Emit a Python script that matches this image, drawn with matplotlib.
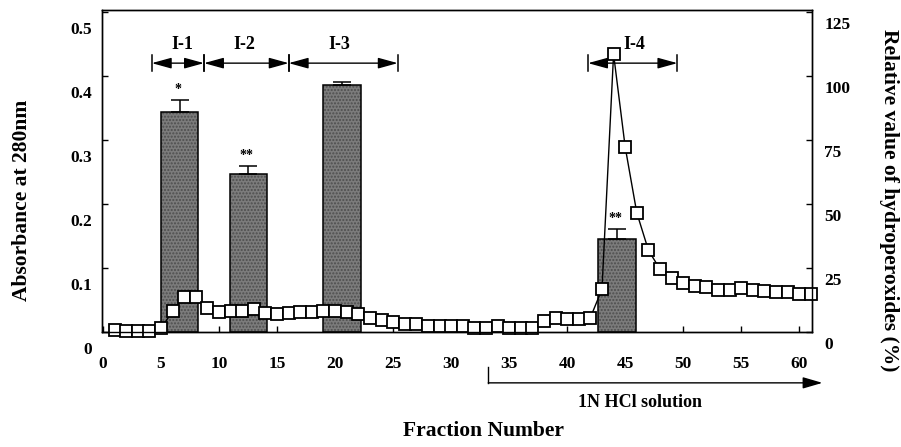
import numpy as np
import matplotlib
matplotlib.use("Agg")
import matplotlib.pyplot as plt
from matplotlib.transforms import ScaledTranslation

plt.rcParams['font.family'] = ['Liberation Serif', 'DejaVu Serif']
plt.rcParams['font.weight'] = 'bold'
plt.rcParams['axes.labelweight'] = 'bold'
plt.rcParams['hatch.linewidth'] = 1.0

## DATA
fraction = np.arange(1, 62)
hydroperox = [0.8, 0.3, 0.3, 0.3, 1.4, 8.2, 13.8, 13.8, 9.3, 7.9,
              8.2, 8.2, 8.9, 7.6, 7.0, 7.4, 7.9, 7.9, 8.3, 8.2,
              7.8, 7.0, 5.6, 4.8, 3.8, 3.2, 3.1, 2.5, 2.2, 2.3,
              2.3, 1.7, 1.7, 2.3, 1.7, 1.7, 1.7, 4.4, 5.6, 5.0,
              5.0, 5.6, 16.7, 108.6, 72.3, 46.6, 32.0, 24.5, 21.0, 19.3,
              18.1, 17.5, 16.4, 16.4, 17.1, 16.4, 16.0, 15.5, 15.5, 14.8,
              14.8]

bar_pos = [6.6, 12.5, 20.6, 44.3]
bar_abs = [0.343, 0.247, 0.386, 0.145]
bar_err = [0.019, 0.013, 0.004, 0.016]
bar_stars = ['*', '**', '', '**']

pool_names = ['I-1', 'I-2', 'I-3', 'I-4']
pool_start = [4.2, 8.7, 16.0, 41.8]
pool_end = [8.7, 16.0, 25.4, 49.5]
pool_label_x = [6.8, 12.2, 20.4, 45.8]

hcl_start = 33.2
hcl_end = 62.0

left_ticks = [0, 0.1, 0.2, 0.3, 0.4, 0.5]
left_labels = ['0', '0.1', '0.2', '0.3', '0.4', '0.5']
right_ticks = [0, 25, 50, 75, 100, 125]
x_ticks = list(range(0, 61, 5))

## FIGURE
fig = plt.figure(figsize=(9.01, 4.47), dpi=100)
ax = fig.add_axes([0.1132, 0.2573, 0.7880, 0.7203])
ax2 = ax.twinx()

# bars (absorbance)
ax.bar(bar_pos, bar_abs, width=3.2, color='#7c7c7c', edgecolor='#4e4e4e',
       hatch='.....', linewidth=0, zorder=2)
ax.bar(bar_pos, bar_abs, width=3.2, fill=False, edgecolor='black',
       linewidth=1.1, zorder=3)
ax.errorbar(bar_pos, bar_abs, yerr=[np.zeros(4), bar_err], fmt='none',
            ecolor='black', elinewidth=1.1, capsize=6.5, capthick=1.1, zorder=3)
for xp, h, e, s in zip(bar_pos, bar_abs, bar_err, bar_stars):
    if s:
        ax.text(xp - 0.15, h + e + 0.006, s, ha='center', va='bottom', fontsize=10)

# pool brackets
arr_y = 0.42
for a, b, name, lx in zip(pool_start, pool_end, pool_names, pool_label_x):
    ax.annotate('', xy=(b, arr_y), xytext=(a, arr_y),
                arrowprops=dict(arrowstyle='<|-|>,head_length=0.8,head_width=0.22',
                                mutation_scale=15, color='black', lw=1.0,
                                shrinkA=0, shrinkB=0))
    ax.plot([a, a], [arr_y - 0.0125, arr_y + 0.0125], color='black', lw=1.1)
    ax.plot([b, b], [arr_y - 0.0125, arr_y + 0.0125], color='black', lw=1.1)
    ax.text(lx, arr_y + 0.029, name, ha='center', va='center', fontsize=13)

# hydroperoxides (right axis)
ax2.plot(fraction, hydroperox, color='black', lw=1.0, marker='s', markersize=8,
         markerfacecolor='white', markeredgecolor='black', markeredgewidth=1.3,
         clip_on=False)

## AXES
ax.set_xlim(-0.09, 61.1)
ax.set_ylim(0, 0.503)
ax2.set_ylim(0, 125.8)
ax.set_xticks(x_ticks)
ax.set_yticks(left_ticks)
ax.set_yticklabels(left_labels)
ax2.set_yticks(right_ticks)

for a_ in (ax, ax2):
    for sp in a_.spines.values():
        sp.set_linewidth(1.0)
ax.tick_params(axis='x', direction='in', length=4, width=1.0, pad=17, labelsize=12.5)
ax.tick_params(axis='y', direction='in', length=4, width=1.0, pad=7, labelsize=12.5)
ax2.tick_params(axis='y', direction='in', length=4, width=1.0, pad=9, labelsize=12.5)

off_l = ScaledTranslation(0, -16 / 100, fig.dpi_scale_trans)
for lab in ax.get_yticklabels():
    lab.set_transform(lab.get_transform() + off_l)
off_r = ScaledTranslation(0, -11 / 100, fig.dpi_scale_trans)
for lab in ax2.get_yticklabels():
    lab.set_transform(lab.get_transform() + off_r)

ax.set_ylabel('Absorbance at 280nm', fontsize=15.5, fontweight='bold')
ax.yaxis.set_label_coords(-0.112, 0.41)
ax.yaxis.label.set_va('center')
ax2.set_ylabel('Relative value of hydroperoxides (%)', fontsize=15.5,
               fontweight='bold', rotation=-90)
ax2.yaxis.set_label_coords(1.109, 0.41)
ax2.yaxis.label.set_va('center')
ax.set_xlabel('Fraction Number', fontsize=15.5, fontweight='bold')
ax.xaxis.set_label_coords(0.538, -0.275)

# 1N HCl elution arrow
tr = ax.get_xaxis_transform()
ax.plot([hcl_start, hcl_start], [-0.109, -0.158], transform=tr, color='black',
        lw=1.0, clip_on=False)
ax.annotate('', xy=(hcl_end, -0.158), xytext=(hcl_start, -0.158), xycoords=tr,
            arrowprops=dict(arrowstyle='-|>,head_length=1.2,head_width=0.35',
                            mutation_scale=10, color='black', lw=1.0,
                            shrinkA=0, shrinkB=0),
            annotation_clip=False)
ax.text(46.3, -0.2205, '1N HCl solution', transform=tr, ha='center', va='center',
        fontsize=13)

fig.savefig('out.png', dpi=100)
